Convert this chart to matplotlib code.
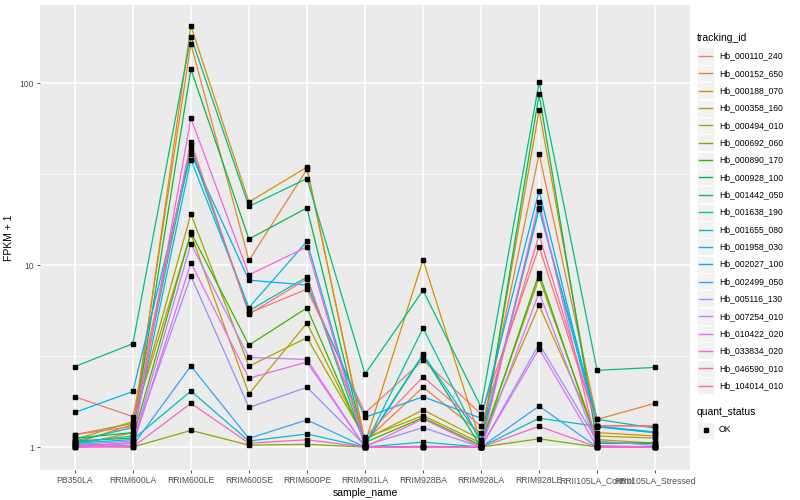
import matplotlib
matplotlib.use("Agg")
import matplotlib.pyplot as plt
from matplotlib.lines import Line2D
from matplotlib.patches import Rectangle
import numpy as np

plt.rcParams["font.family"] = ["Liberation Sans", "DejaVu Sans"]

samples = ["PB350LA", "RRIM600LA", "RRIM600LE", "RRIM600SE", "RRIM600PE",
           "RRIM901LA", "RRIM928BA", "RRIM928LA", "RRIM928LE",
           "RRII105LA_Control", "RRII105LA_Stressed"]

tracking_ids = ["Hb_000110_240", "Hb_000152_650", "Hb_000188_070", "Hb_000358_160",
                "Hb_000494_010", "Hb_000692_060", "Hb_000890_170", "Hb_000928_100",
                "Hb_001442_050", "Hb_001638_190", "Hb_001655_080", "Hb_001958_030",
                "Hb_002027_100", "Hb_002499_050", "Hb_005116_130", "Hb_007254_010",
                "Hb_010422_020", "Hb_033834_020", "Hb_046590_010", "Hb_104014_010"]

# couleurs par défaut de ggplot (hue_pal) pour 20 niveaux
palette = ["#F8766D", "#EA8331", "#D89000", "#C09B00", "#A3A500", "#7CAE00",
           "#39B600", "#00BB4E", "#00BF7D", "#00C1A3", "#00BFC4", "#00BAE0",
           "#00B0F6", "#35A2FF", "#9590FF", "#C77CFF", "#E76BF3", "#FA62DB",
           "#FF62BC", "#FF6C91"]

# FPKM + 1, one list per tracking_id, in sample order
fpkm_000110_240 = [1.89, 1.47, 45.5, 5.45, 7.38, 1.54, 3.0, 1.52, 12.6, 1.31, 1.31]
fpkm_000152_650 = [1.05, 1.33, 164, 10.6, 33.6, 1.08, 2.13, 1.19, 40.8, 1.42, 1.74]
fpkm_000188_070 = [1.03, 1.2, 206, 22.2, 34.5, 1.05, 10.7, 1.05, 71, 1.2, 1.15]
fpkm_000358_160 = [1.1, 1.38, 14.8, 1.96, 4.8, 1.1, 1.6, 1.1, 6.0, 1.15, 1.12]
fpkm_000494_010 = [1.17, 1.35, 19.1, 2.78, 3.99, 1.12, 1.49, 1.05, 8.5, 1.1, 1.05]
fpkm_000692_060 = [1.02, 1.0, 1.235, 1.025, 1.035, 1.0, 1.0, 1.0, 1.11, 1.0, 1.0]
fpkm_000890_170 = [1.08, 1.12, 15.1, 3.63, 5.82, 1.06, 1.45, 1.02, 9.03, 1.05, 1.05]
fpkm_000928_100 = [1.12, 1.2, 119, 13.9, 20.6, 1.03, 3.2, 1.0, 86.8, 1.05, 1.05]
fpkm_001442_050 = [2.77, 3.7, 180, 21.0, 29.9, 2.52, 7.26, 1.66, 101, 2.64, 2.74]
fpkm_001638_190 = [1.08, 1.28, 43.6, 5.61, 8.6, 1.02, 4.5, 1.05, 20.4, 1.42, 1.27]
fpkm_001655_080 = [1.05, 1.1, 2.03, 1.079, 1.18, 1.0, 1.065, 1.0, 1.44, 1.3, 1.2]
fpkm_001958_030 = [1.06, 1.15, 38, 5.84, 13.5, 1.04, 3.24, 1.1, 20.6, 1.29, 1.2]
fpkm_002027_100 = [1.55, 2.02, 41, 8.26, 7.77, 1.457, 1.89, 1.44, 25.6, 1.3, 1.21]
fpkm_002499_050 = [1.04, 1.02, 2.79, 1.116, 1.41, 1.0, 1.0, 1.0, 1.68, 1.0, 1.0]
fpkm_005116_130 = [1.03, 1.08, 8.7, 1.65, 2.13, 1.02, 1.28, 1.0, 3.69, 1.08, 1.02]
fpkm_007254_010 = [1.0, 1.05, 13.1, 3.11, 3.03, 1.0, 1.0, 1.0, 7.06, 1.02, 1.0]
fpkm_010422_020 = [1.0, 1.02, 10.3, 2.39, 2.93, 1.0, 1.0, 1.0, 3.47, 1.0, 1.0]
fpkm_033834_020 = [1.01, 1.06, 64, 8.83, 12.6, 1.0, 1.43, 1.0, 22.2, 1.0, 1.0]
fpkm_046590_010 = [1.0, 1.0, 1.74, 1.05, 1.097, 1.0, 1.01, 1.0, 1.30, 1.0, 1.0]
fpkm_104014_010 = [1.17, 1.3, 47.6, 5.37, 8.4, 1.13, 2.43, 1.30, 14.6, 1.31, 1.30]

series = [fpkm_000110_240, fpkm_000152_650, fpkm_000188_070, fpkm_000358_160,
          fpkm_000494_010, fpkm_000692_060, fpkm_000890_170, fpkm_000928_100,
          fpkm_001442_050, fpkm_001638_190, fpkm_001655_080, fpkm_001958_030,
          fpkm_002027_100, fpkm_002499_050, fpkm_005116_130, fpkm_007254_010,
          fpkm_010422_020, fpkm_033834_020, fpkm_046590_010, fpkm_104014_010]

fig = plt.figure(figsize=(8, 5), dpi=100)
ax = fig.add_axes([40 / 800, 30 / 500, 650 / 800, 465 / 500])
ax.set_facecolor("#EBEBEB")

x = np.arange(len(samples))
for vals, col in zip(series, palette):
    ax.plot(x, vals, color=col, lw=0.9, zorder=3)
for vals in series:
    ax.plot(x, vals, ls="none", marker="s", ms=2.2, color="black", zorder=4)

ax.set_yscale("log")
ax.set_ylim(10 ** -0.126, 10 ** 2.429)
ax.set_xlim(-0.6, len(samples) - 0.4)
ax.set_yticks([1, 10, 100])
ax.set_yticklabels(["1", "10", "100"])
ax.set_yticks([10 ** 0.5, 10 ** 1.5], minor=True)
ax.yaxis.set_minor_formatter(plt.NullFormatter())
ax.set_xticks(x)
ax.set_xticklabels(samples)

ax.grid(True, which="major", color="white", lw=1.1, zorder=0)
ax.grid(True, which="minor", axis="y", color="white", lw=0.5, zorder=0)
ax.set_axisbelow(True)
for s in ax.spines.values():
    s.set_visible(False)
ax.tick_params(axis="both", which="major", length=2.5, width=0.6,
               color="#333333", labelsize=6.2, labelcolor="#4D4D4D", pad=2)
ax.tick_params(axis="y", which="minor", length=0)
ax.set_xlabel("sample_name", fontsize=7.5, labelpad=2)
ax.set_ylabel("FPKM + 1", fontsize=7.5, labelpad=4)

# légende façon ggplot
fig.text(697 / 800, 1 - 38 / 500, "tracking_id", fontsize=7.5, va="center")
for i, (name, col) in enumerate(zip(tracking_ids, palette)):
    yc = 56 + i * 17.35
    fig.patches.append(Rectangle((697 / 800, 1 - (yc + 8.5) / 500), 17 / 800, 17 / 500,
                                 transform=fig.transFigure, facecolor="#F2F2F2",
                                 edgecolor="white", lw=0.6))
    fig.lines.append(Line2D([699 / 800, 712 / 800], [1 - yc / 500] * 2,
                            transform=fig.transFigure, color=col, lw=1.0))
    fig.text(719 / 800, 1 - yc / 500, name, fontsize=6.2, va="center")

fig.text(697 / 800, 1 - 412 / 500, "quant_status", fontsize=7.5, va="center")
fig.patches.append(Rectangle((697 / 800, 1 - 438.5 / 500), 17 / 800, 17 / 500,
                             transform=fig.transFigure, facecolor="#F2F2F2",
                             edgecolor="white", lw=0.6))
fig.lines.append(Line2D([705.5 / 800], [1 - 430 / 500], transform=fig.transFigure,
                        marker="s", ms=2.2, color="black", ls="none"))
fig.text(719 / 800, 1 - 430 / 500, "OK", fontsize=6.2, va="center")

fig.savefig("out.png", dpi=100)
